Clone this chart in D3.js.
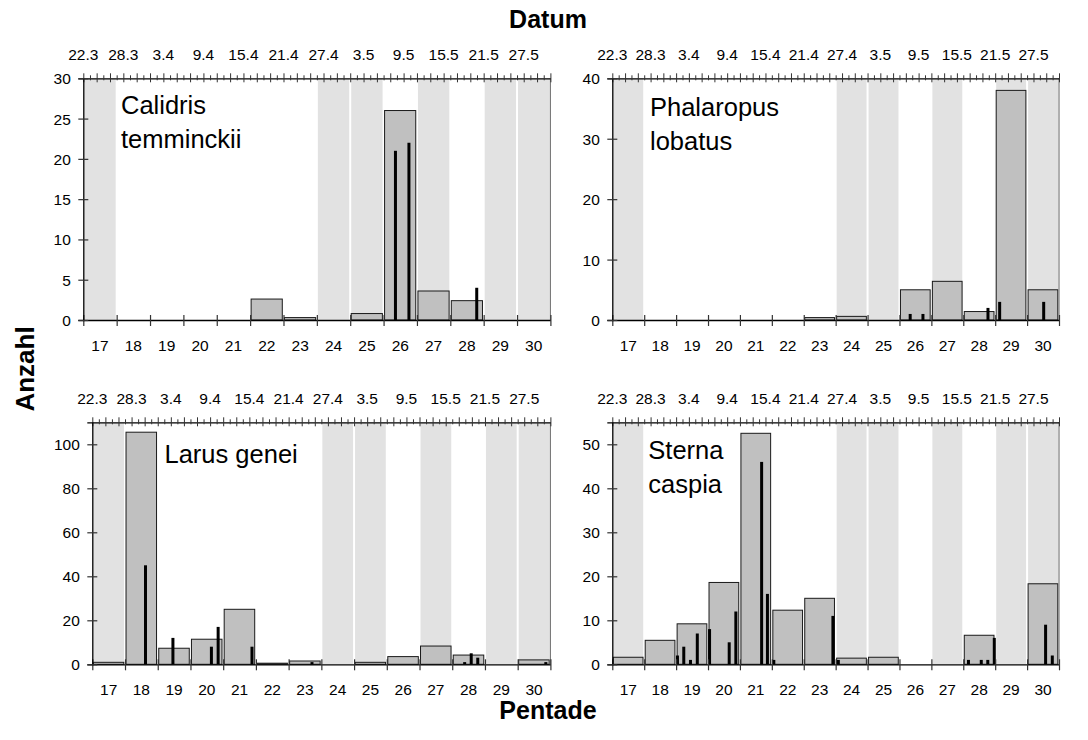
<!DOCTYPE html>
<html><head><meta charset="utf-8">
<script src="https://cdn.jsdelivr.net/npm/d3@7"></script>
<style>
body{margin:0;background:#fff;}
svg text{font-family:"Liberation Sans",Arial,Helvetica,sans-serif;fill:#000;}
</style></head>
<body><svg id="c" width="1088" height="740"></svg>
<script>
// ---- data ----
const pentades = [17,18,19,20,21,22,23,24,25,26,27,28,29,30];
const dateLabels = ["22.3","28.3","3.4","9.4","15.4","21.4","27.4","3.5","9.5","15.5","21.5","27.5"];
const shadedPentades = [17,24,25,27,29,30];

const calidrisName = ["Calidris","temminckii"];
const calidrisPentade = [0,0,0,0,0,2.6,0.3,0,0.8,26,3.6,2.4,0,0];
const calidrisDay = [46.78,48.8,58.96];
const calidrisDaily = [21,22,4];

const phalaropusName = ["Phalaropus","lobatus"];
const phalaropusPentade = [0,0,0,0,0,0,0.4,0.6,0,5,6.4,1.4,38,5];
const phalaropusDay = [46.68,48.68,58.87,60.7,67.6];
const phalaropusDaily = [1,1,2,3,3];

const larusName = ["Larus genei"];
const larusPentade = [0.9,105.5,7.3,11.4,25,0.5,1.5,0,0.9,3.5,8.3,4.2,0,2];
const larusDay = [8.13,12.32,18.2,19.23,24.4,33.57,56.9,57.9,58.9,69.3];
const larusDaily = [45,12,8,17,8,1,1,5,3,1];

const sternaName = ["Sterna","caspia"];
const sternaPentade = [1.6,5.45,9.2,18.6,52.5,12.3,15,1.4,1.6,0,0,6.6,0,18.3];
const sternaDay = [10.21,11.2,12.25,13.32,15.24,18.32,19.36,23.4,24.31,25.31,34.57,35.42,55.81,57.82,58.84,59.86,67.9,68.95];
const sternaDaily = [2,4,1,7,8,5,12,46,16,1,11,1,1,1,1,6,9,2];

const yTicksCalidris = [0,5,10,15,20,25,30];
const yTicksPhalaropus = [0,10,20,30,40];
const yTicksLarus = [0,20,40,60,80,100];
const yTicksSterna = [0,10,20,30,40,50];

// ---- layout ----
const panels = [
  {name:calidrisName, pent:calidrisPentade, day:calidrisDay, daily:calidrisDaily, yMax:30, yTicks:yTicksCalidris,
   left:83.3, right:550.4, top:78.3, bottom:320, labelX:121, labelY:114},
  {name:phalaropusName, pent:phalaropusPentade, day:phalaropusDay, daily:phalaropusDaily, yMax:40, yTicks:yTicksPhalaropus,
   left:612.3, right:1059, top:78.3, bottom:320, labelX:650, labelY:116},
  {name:larusName, pent:larusPentade, day:larusDay, daily:larusDaily, yMax:110, yTicks:yTicksLarus,
   left:92.3, right:550.4, top:422.3, bottom:664.3, labelX:164.5, labelY:463},
  {name:sternaName, pent:sternaPentade, day:sternaDay, daily:sternaDaily, yMax:55, yTicks:yTicksSterna,
   left:612.3, right:1059, top:422.3, bottom:664.3, labelX:648.3, labelY:459}
];

const svg = d3.select("#c");
const FS = 15.5;
const nDays = pentades.length*5;
const pStart = p => (p - pentades[0]) * 5;

panels.forEach(P => {
  const x = d3.scaleLinear().domain([0, nDays]).range([P.left, P.right]);
  const y = d3.scaleLinear().domain([0, P.yMax]).range([P.bottom, P.top]);
  const g = svg.append("g");

  // shaded bands
  g.selectAll("rect.band").data(shadedPentades).join("rect")
    .attr("x", p => x(pStart(p)) + 1)
    .attr("width", p => x(pStart(p)+5) - x(pStart(p)) - 2)
    .attr("y", P.top).attr("height", P.bottom - P.top)
    .attr("fill", "#e2e2e2");

  // pentade bars
  const pd = pentades.map((p,i)=>({p, v:P.pent[i]})).filter(d=>d.v>0);
  g.selectAll("rect.pb").data(pd).join("rect")
    .attr("x", d => x(pStart(d.p)) + 1)
    .attr("width", d => x(pStart(d.p)+5) - x(pStart(d.p)) - 2.2)
    .attr("y", d => y(d.v)).attr("height", d => y(0) - y(d.v))
    .attr("fill", "#c0c0c0").attr("stroke", "#1a1a1a").attr("stroke-width", 1);

  // daily bars
  const dd = P.day.map((d,i)=>({d, v:P.daily[i]}));
  g.selectAll("rect.db").data(dd).join("rect")
    .attr("x", d => x(d.d) - 1.5).attr("width", 3)
    .attr("y", d => y(d.v)).attr("height", d => y(0) - y(d.v))
    .attr("fill", "#000");

  // right border
  g.append("line").attr("x1", P.right).attr("x2", P.right).attr("y1", P.top).attr("y2", P.bottom)
    .attr("stroke", "#7a7a7a").attr("stroke-width", 1.2);

  // top date axis
  const topAx = d3.axisTop(x).tickValues(d3.range(0, nDays+1)).tickFormat("").tickSizeOuter(0);
  const tg = g.append("g").attr("transform", `translate(0,${P.top})`).call(topAx);
  tg.select(".domain").attr("stroke", "#000").attr("stroke-width", 1.3);
  tg.selectAll(".tick line").attr("y1", d => d % 2 === 0 ? -5 : -3).attr("y2", d => d % 2 === 0 ? 4 : 2)
    .attr("stroke", "#333");
  g.selectAll("text.dl").data(dateLabels).join("text")
    .attr("x", (t,i) => x(i*6)).attr("y", P.top - 18.5)
    .attr("text-anchor", "middle").attr("font-size", FS).text(t => t);

  // bottom pentade axis
  const botAx = d3.axisBottom(x).tickValues(d3.range(0, nDays+1, 5)).tickFormat("").tickSizeOuter(0);
  const bg = g.append("g").attr("transform", `translate(0,${P.bottom})`).call(botAx);
  bg.select(".domain").attr("stroke", "#000").attr("stroke-width", 1.3);
  bg.selectAll(".tick line").attr("y1", -5).attr("y2", 6).attr("stroke", "#333").attr("stroke-width", 1.2);
  g.selectAll("text.pl").data(pentades).join("text")
    .attr("x", p => x(pStart(p) + 2.5)).attr("y", P.bottom + 30.5)
    .attr("text-anchor", "middle").attr("font-size", FS).text(p => p);

  // left y axis
  const yAx = d3.axisLeft(y).tickValues(P.yTicks).tickSizeOuter(0).tickSize(5).tickPadding(8);
  const yg = g.append("g").attr("transform", `translate(${P.left},0)`).call(yAx);
  yg.select(".domain").attr("stroke", "#000").attr("stroke-width", 1.3);
  yg.selectAll(".tick line").attr("x1", -5).attr("x2", 5).attr("stroke", "#333").attr("stroke-width", 1.2);
  yg.selectAll(".tick text").attr("font-size", FS).attr("font-family", "Liberation Sans, Arial, sans-serif")
    .attr("x", -12.5).attr("dy", "0.35em");

  // species name
  const nt = g.append("text").attr("x", P.labelX).attr("y", P.labelY).attr("font-size", 25.5);
  P.name.forEach((s,i) => nt.append("tspan").attr("x", P.labelX).attr("dy", i===0?0:34).text(s));
});

// axis titles
svg.append("text").attr("x", 548).attr("y", 28).attr("text-anchor", "middle")
  .attr("font-size", 25).attr("font-weight", "bold").text("Datum");
svg.append("text").attr("x", 548).attr("y", 719).attr("text-anchor", "middle")
  .attr("font-size", 25).attr("font-weight", "bold").text("Pentade");
svg.append("text").attr("transform", "translate(34,369) rotate(-90)").attr("text-anchor", "middle")
  .attr("font-size", 26).attr("font-weight", "bold").text("Anzahl");
</script></body></html>
